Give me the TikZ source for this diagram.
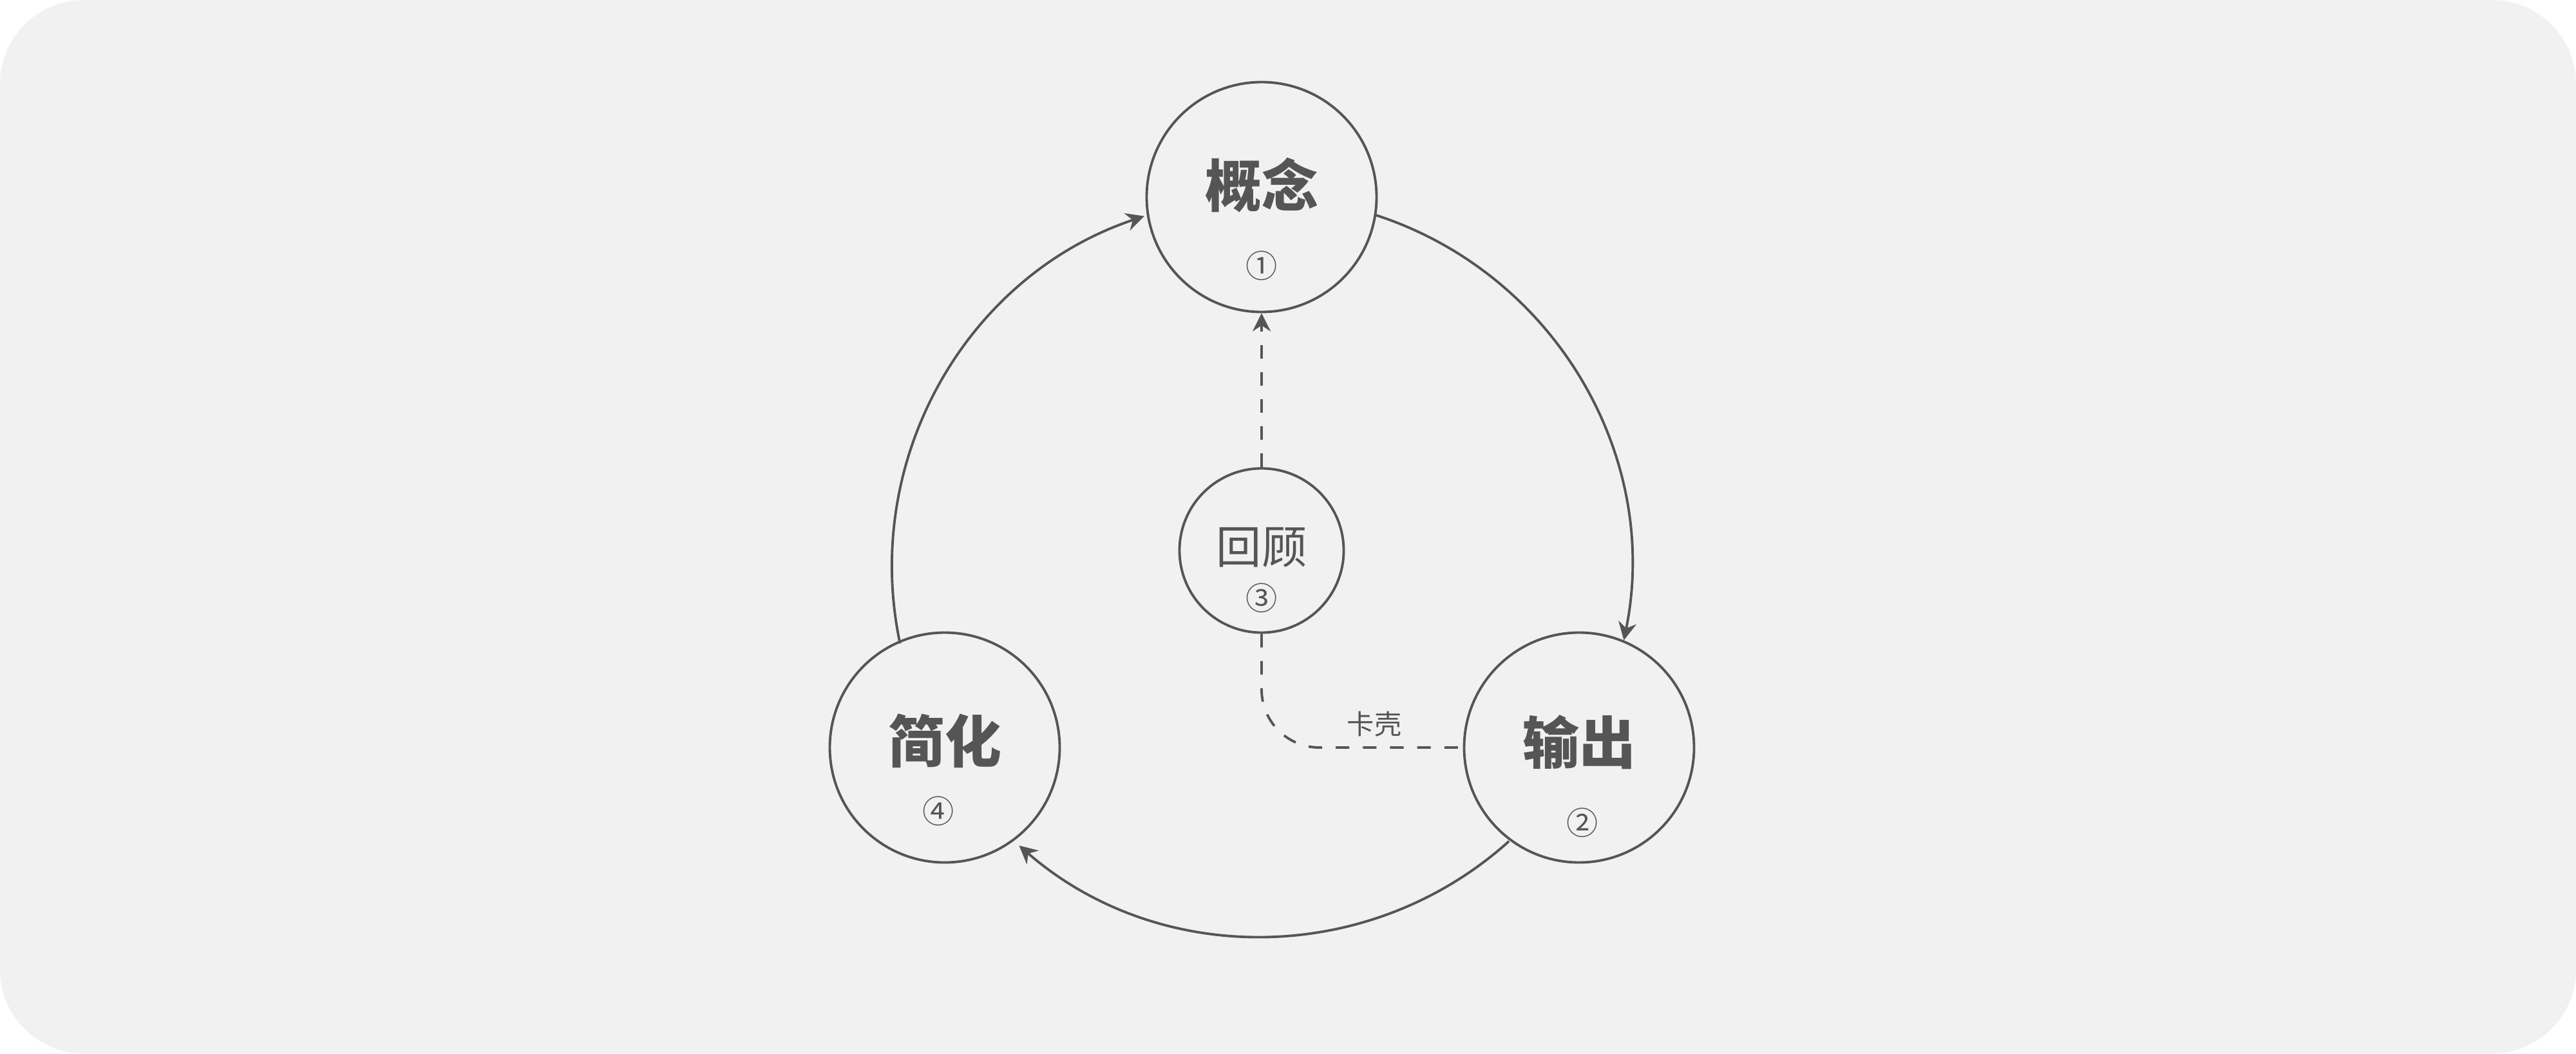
\documentclass[tikz,border=0pt]{standalone}
\usepackage{fontspec}
\setmainfont{Noto Sans CJK SC}
\usetikzlibrary{arrows.meta,calc}
\definecolor{ink}{HTML}{555555}
\definecolor{paper}{HTML}{F1F1F1}

\begin{document}
\begin{tikzpicture}[line width = 1.1pt, draw = ink, text = ink,
                    bigc/.style = {circle, draw = ink, minimum size = 3.57cm, inner sep = 0pt},
                    smallc/.style = {circle, draw = ink, minimum size = 2.55cm, inner sep = 0pt},
                    title/.style = {font = \fontsize{25}{28}\selectfont\bfseries},
                    num/.style = {font = \fontsize{14}{16}\selectfont},
                    dashy/.style = {dash pattern = on 6pt off 6pt}]
      \fill [paper, rounded corners = 1.3cm] (0, 0) rectangle (40, -16.36);
      \useasboundingbox (0, 0) rectangle (40, -16.36);
      % circles
      \node [bigc] (gn) at (19.59, -3.06){};
      \node [smallc] (hg) at (19.59, -8.55){};
      \node [bigc] (sc) at (24.52, -11.61){};
      \node [bigc] (jh) at (14.67, -11.61){};
      \coordinate (mid) at (19.59, -8.80);
      % labels
      \node [title] (gnt) at ($(gn) + (0, 0.18)$){概念};
      \node [num] (gnn) at ($(gn) + (0, -1.07)$){①};
      \node [title, font = \fontsize{20}{22}\selectfont] (hgt) at ($(hg) + (0, 0.05)$){回顾};
      \node [num] (hgn) at ($(hg) + (0, -0.74)$){③};
      \node [title] (sct) at ($(sc) + (0, 0.08)$){输出};
      \node [num] (scn) at ($(sc) + (0.05, -1.17)$){②};
      \node [title] (jht) at ($(jh) + (0, 0.1)$){简化};
      \node [num] (jhn) at ($(jh) + (-0.1, -0.99)$){④};
      % cycle
      \draw [-{Stealth[length = 8pt, width = 8pt]}] ($(mid) + (72:5.74)$) arc (72:-11.5:5.74);
      \draw [-{Stealth[length = 8pt, width = 8pt]}] ($(mid) + (-48:5.74)$) arc (-48:-131:5.74);
      \draw [-{Stealth[length = 8pt, width = 8pt]}] ($(mid) + (192:5.74)$) arc (192:108.5:5.74);
      % review
      \draw [dashy, -{Stealth[length = 8pt, width = 8pt]}] (hg.north) -- (gn.south);
      \draw [dashy, rounded corners = 0.9cm] (hg.south) |- (sc.west)
            node [pos = 0.78, above = 1pt, font = \fontsize{12}{14}\selectfont] (kk){卡壳};
    \end{tikzpicture}
\end{document}
